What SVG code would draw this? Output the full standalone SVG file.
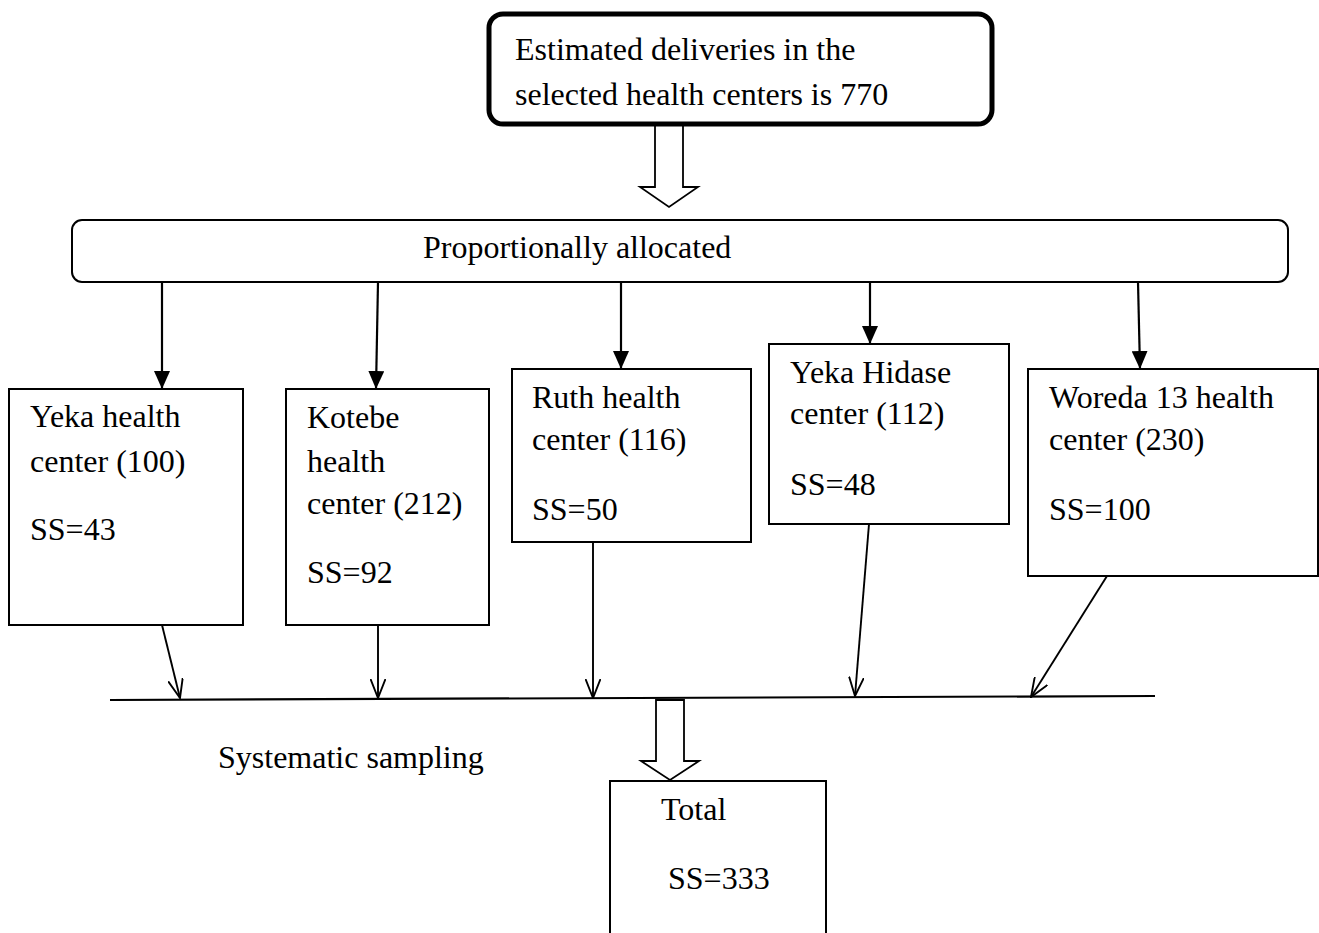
<svg xmlns="http://www.w3.org/2000/svg" width="1319" height="933" viewBox="0 0 1319 933">
<style>
text{font-family:"Liberation Serif","Times New Roman",serif;font-size:32px;fill:#000}
.box{fill:#fff;stroke:#000;stroke-width:2}
.c{fill:none;stroke:#000;stroke-width:2.2}
.t{fill:none;stroke:#000;stroke-width:1.9}
.hollow{fill:#fff;stroke:#000;stroke-width:1.8;stroke-linejoin:miter}
</style>
<defs>
<marker id="fa" viewBox="0 0 18 16" refX="18" refY="8" markerWidth="18" markerHeight="16" markerUnits="userSpaceOnUse" orient="auto"><path d="M0,0 L18,8 L0,16 Z" fill="#000"/></marker>
<marker id="oa" viewBox="0 0 20 16" refX="19" refY="8" markerWidth="20" markerHeight="16" markerUnits="userSpaceOnUse" orient="auto"><path d="M0,0.5 L19,8 L0,15.5" fill="none" stroke="#000" stroke-width="1.9"/></marker>
</defs>
<rect width="1319" height="933" fill="#fff"/>

<g id="connectors">
<polygon class="hollow" points="655,125 683,125 683,187 698,187 669,207 640,187 655,187"/>
<line class="c" x1="162" y1="282" x2="162" y2="389" marker-end="url(#fa)"/>
<line class="c" x1="378" y1="282" x2="376" y2="389" marker-end="url(#fa)"/>
<line class="c" x1="621" y1="282" x2="621" y2="369" marker-end="url(#fa)"/>
<line class="c" x1="870" y1="282" x2="870" y2="344" marker-end="url(#fa)"/>
<line class="c" x1="1138" y1="282" x2="1140" y2="369" marker-end="url(#fa)"/>
<line class="c" x1="110" y1="700" x2="1155" y2="696"/>
<line class="t" x1="162" y1="625" x2="180" y2="698" marker-end="url(#oa)"/>
<line class="t" x1="378" y1="625" x2="378" y2="698" marker-end="url(#oa)"/>
<line class="t" x1="593" y1="542" x2="593" y2="698" marker-end="url(#oa)"/>
<line class="t" x1="869" y1="524" x2="855" y2="696" marker-end="url(#oa)"/>
<line class="t" x1="1107" y1="576" x2="1031" y2="697" marker-end="url(#oa)"/>
<polygon class="hollow" points="656,700 684,700 684,761 699,761 670,780 641,761 656,761"/>
</g>

<g id="n_top">
<rect x="489" y="14" width="503" height="110" rx="14" fill="#fff" stroke="#000" stroke-width="5"/>
<text x="515" y="60">Estimated deliveries in the</text>
<text x="515" y="105">selected health centers is 770</text>
</g>

<g id="n_alloc">
<rect class="box" x="72" y="220" width="1216" height="62" rx="10"/>
<text x="423" y="258">Proportionally allocated</text>
</g>

<g id="n_yeka">
<rect class="box" x="9" y="389" width="234" height="236"/>
<text x="30" y="427">Yeka health</text>
<text x="30" y="472">center (100)</text>
<text x="30" y="540">SS=43</text>
</g>

<g id="n_kotebe">
<rect class="box" x="286" y="389" width="203" height="236"/>
<text x="307" y="428">Kotebe</text>
<text x="307" y="472">health</text>
<text x="307" y="514">center (212)</text>
<text x="307" y="583">SS=92</text>
</g>

<g id="n_ruth">
<rect class="box" x="512" y="369" width="239" height="173"/>
<text x="532" y="408">Ruth health</text>
<text x="532" y="450">center (116)</text>
<text x="532" y="520">SS=50</text>
</g>

<g id="n_hidase">
<rect class="box" x="769" y="344" width="240" height="180"/>
<text x="790" y="383"> Yeka Hidase</text>
<text x="790" y="424">center (112)</text>
<text x="790" y="495">SS=48</text>
</g>

<g id="n_woreda">
<rect class="box" x="1028" y="369" width="290" height="207"/>
<text x="1049" y="408">Woreda 13 health</text>
<text x="1049" y="450">center (230)</text>
<text x="1049" y="520">SS=100</text>
</g>

<g id="n_sys">
<text x="218" y="768">Systematic sampling</text>
</g>

<g id="n_total">
<rect class="box" x="610" y="781" width="216" height="170"/>
<text x="661" y="820">Total</text>
<text x="668" y="889">SS=333</text>
</g>
</svg>
